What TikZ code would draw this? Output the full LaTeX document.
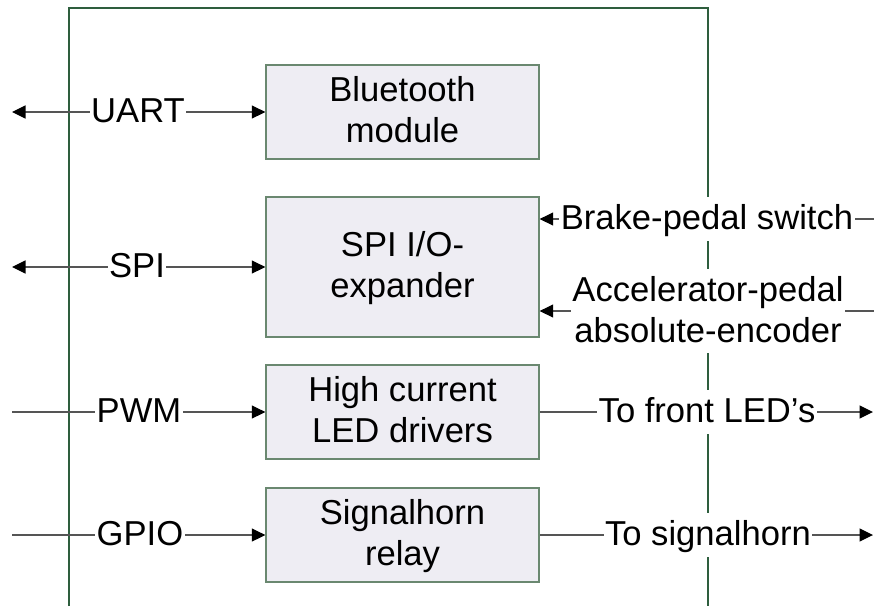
\documentclass[tikz,border=0pt]{standalone}
\usepackage{fontspec}
\setmainfont{Liberation Sans}
\usetikzlibrary{arrows.meta,backgrounds}
\definecolor{framegreen}{HTML}{2E5E3E}
\definecolor{boxedge}{HTML}{6A8870}
\definecolor{boxfill}{HTML}{EEEDF3}
\definecolor{wire}{HTML}{555555}

\begin{document}
\begin{tikzpicture}[x=1pt,y=-1pt,
  font=\fontsize{34.6}{41}\selectfont,
  block/.style={draw=boxedge,fill=boxfill,line width=1.3pt,minimum width=273pt,
    align=center,inner sep=0pt,text height=65pt,text depth=5pt},
  sig/.style={fill=white,inner xsep=1.5pt,inner ysep=2.7pt,
    text height=29.8pt,text depth=8.7pt},
  sigtwo/.style={fill=white,align=center,inner xsep=1.5pt,inner ysep=2.7pt,
    text height=70.8pt,text depth=8.7pt},
  wireline/.style={draw=wire,line width=1.2pt,
    >={Triangle[length=13.5pt,width=13pt,color=black]}},
  frameline/.style={draw=framegreen,line width=1.3pt}
]
\useasboundingbox (0,0) rectangle (874,606);

% functional blocks
\node[block,minimum height=94pt]  (bt)  at (402.5,112) {Bluetooth\\module};
\node[block,minimum height=140pt] (spi) at (402.5,267) {SPI I/O-\\expander};
\node[block,minimum height=94pt]  (hc)  at (402.5,412) {High current\\LED drivers};
\node[block,minimum height=94pt]  (sh)  at (402.5,535) {Signalhorn\\relay};

% signal labels (white background breaks the lines behind them)
\node[sig] (uart)  at (138,112) {UART};
\node[sig] (spil)  at (137,267) {SPI};
\node[sig] (pwm)   at (139,412) {PWM};
\node[sig] (gpio)  at (140,535) {GPIO};
\node[sig] (brake) at (707,219) {Brake-pedal switch};
\node[sigtwo] (accel) at (708,311) {Accelerator-pedal\\absolute-encoder};
\node[sig] (led)   at (707,412) {To front LED's};
\node[sig] (horn)  at (708,535) {To signalhorn};

% free ends of the connectors and corners of the board outline
\coordinate (uartL)  at (12,112);
\coordinate (spiL)   at (12,267);
\coordinate (pwmL)   at (12,412);
\coordinate (gpioL)  at (12,535);
\coordinate (brakeR) at (874,219);
\coordinate (accelR) at (874,311);
\coordinate (ledR)   at (873,412);
\coordinate (hornR)  at (873,535);
\coordinate (fBL) at (69,606);
\coordinate (fTL) at (69,8);
\coordinate (fTR) at (708,8);
\coordinate (fBR) at (708,606);

\begin{scope}[on background layer]
  \draw[frameline] (fBL) -- (fTL) -- (fTR) -- (fBR);
  \draw[wireline,<->] (uartL) -- (bt.west);
  \draw[wireline,<->] (spiL) -- (spi.west);
  \draw[wireline,->] (pwmL) -- (hc.west);
  \draw[wireline,->] (gpioL) -- (sh.west);
  \draw[wireline,->] (brakeR) -- (brakeR -| spi.east);
  \draw[wireline,->] (accelR) -- (accelR -| spi.east);
  \draw[wireline,->] (hc.east) -- (ledR);
  \draw[wireline,->] (sh.east) -- (hornR);
\end{scope}
\end{tikzpicture}
\end{document}
